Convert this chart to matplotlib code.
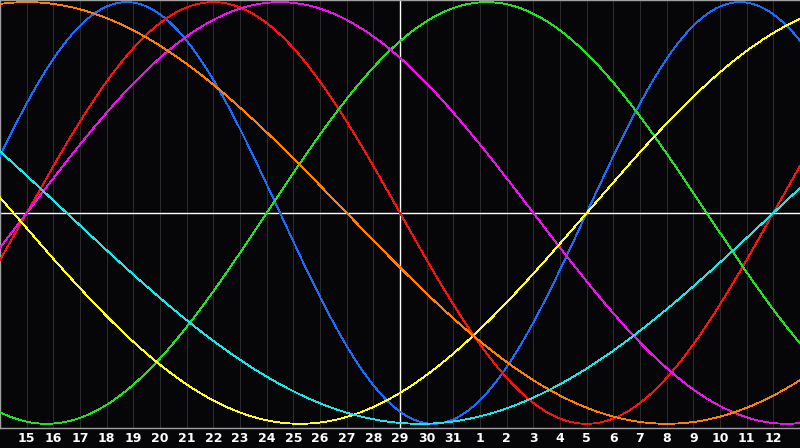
import matplotlib
matplotlib.use("Agg")
import matplotlib.pyplot as plt
import numpy as np

# chart days shown along the bottom (day 14 sits at the left edge)
day_labels = ["15", "16", "17", "18", "19", "20", "21", "22", "23", "24", "25",
              "26", "27", "28", "29", "30", "31", "1", "2", "3", "4", "5", "6",
              "7", "8", "9", "10", "11", "12"]

# biorhythm cycles: period in days, chart day of the upward zero crossing
cycle_names = ["physical", "emotional", "intellectual", "intuitive",
               "aesthetic", "awareness", "spiritual"]
cycle_periods = [23, 28, 33, 38, 43, 48, 53]
cycle_zero_day = [22.0, 1.0, 10.0, 1.0, 22.0, -11.0, 29.0]
cycle_colors = ["#1a6cff", "#ff1010", "#22e022", "#ee11ee",
                "#ffff1a", "#ff7f00", "#1ae6e6"]

BG = "#060609"
GRID = "#2a2a2a"
FRAME = "#a0a0a0"
N_DAYS = 30
TODAY = 15

fig = plt.figure(figsize=(8.0, 4.48), dpi=100)
fig.patch.set_facecolor(BG)
ax = fig.add_axes([0.0, 20 / 448, 1.0, 428 / 448])
ax.set_facecolor(BG)

t = np.linspace(0, N_DAYS, 1201)
for period, t0, color in zip(cycle_periods, cycle_zero_day, cycle_colors):
    y = np.sin(2 * np.pi * (t - t0) / period)
    ax.plot(t, y, color=color, linewidth=0.6, antialiased=False, zorder=3)

for d in range(1, N_DAYS):
    ax.axvline(d, color=GRID, linewidth=0.8, zorder=1)
ax.axvline(TODAY, color="white", linewidth=1.0, zorder=2)
ax.axhline(0, color="white", linewidth=1.0, zorder=2)

ax.set_xlim(0, N_DAYS)
ax.set_ylim(-1.02, 1.01)
ax.set_yticks([])
ax.set_xticks(np.arange(1, len(day_labels) + 1))
ax.set_xticklabels(day_labels, color="white", fontsize=9,
                   fontweight="bold", family="DejaVu Sans")
ax.tick_params(axis="x", length=0, pad=3)

for side in ["left", "bottom", "top"]:
    ax.spines[side].set_color(FRAME)
    ax.spines[side].set_linewidth(1.0)
ax.spines["right"].set_visible(False)

fig.savefig("out.png", dpi=100, facecolor=BG)
